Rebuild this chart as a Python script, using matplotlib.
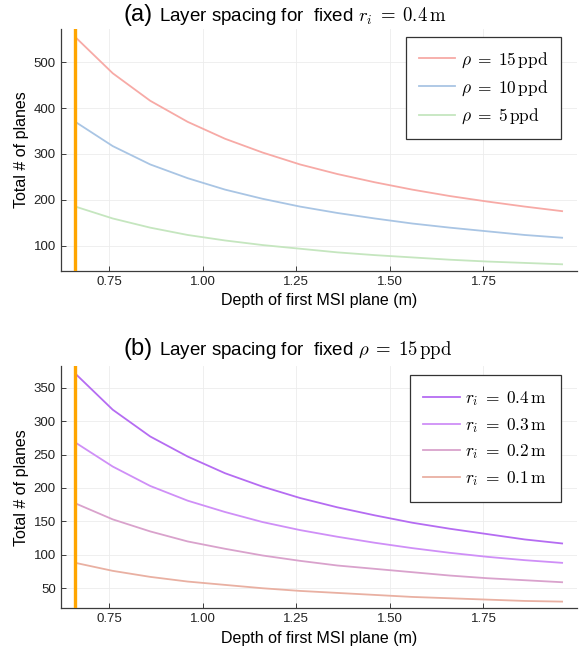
#!/usr/bin/env python3
"""
Number of MSI planes vs depth of first plane, two panels
"""

import matplotlib
matplotlib.use('Agg')
import matplotlib.pyplot as plt

# depth of first MSI plane (m)
depth = [0.66, 0.76, 0.86, 0.96, 1.06, 1.16, 1.26, 1.36, 1.46, 1.56, 1.66, 1.76, 1.86, 1.96]
cutoff = 0.66

# panel (a): fixed r_i = 0.4 m
rho15 = [555, 476, 416, 370, 333, 303, 277, 256, 238, 222, 208, 196, 185, 175]
rho10 = [370, 317, 277, 247, 222, 202, 185, 171, 159, 148, 139, 131, 123, 117]
rho5 = [185, 159, 139, 123, 111, 101, 93, 85, 79, 74, 69, 65, 62, 59]
labels_a = [r'$\rho \;=\; 15\,\mathrm{ppd}$', r'$\rho \;=\; 10\,\mathrm{ppd}$',
            r'$\rho \;=\; 5\,\mathrm{ppd}$']
colors_a = ['#f7aaa6', '#a9c5e4', '#c5e6bf']

# panel (b): fixed rho = 15 ppd
r04 = [371, 317, 277, 247, 222, 202, 185, 171, 159, 148, 139, 131, 123, 117]
r03 = [268, 232, 203, 181, 164, 149, 137, 127, 118, 110, 103, 97, 92, 88]
r02 = [177, 153, 135, 120, 109, 99, 91, 84, 79, 74, 69, 65, 62, 59]
r01 = [88, 76, 67, 60, 55, 50, 46, 43, 40, 37, 35, 33, 31, 30]
labels_b = [r'$r_i \;=\; 0.4\,\mathrm{m}$', r'$r_i \;=\; 0.3\,\mathrm{m}$',
            r'$r_i \;=\; 0.2\,\mathrm{m}$', r'$r_i \;=\; 0.1\,\mathrm{m}$']
colors_b = ['#b56cf2', '#cf8ff7', '#d9a2cc', '#e9b0a2']

plt.rcParams['font.family'] = ['Liberation Sans', 'DejaVu Sans']
plt.rcParams['mathtext.fontset'] = 'cm'

W, H = 582, 651
fig = plt.figure(figsize=(W / 100, H / 100), dpi=100)


def px_axes(left, top, right, bottom):
    return fig.add_axes([left / W, 1 - bottom / H, (right - left) / W, (bottom - top) / H])


def style(ax, xticks, yticks):
    for s in ['top', 'right']:
        ax.spines[s].set_visible(False)
    for s in ['left', 'bottom']:
        ax.spines[s].set_color('#3c3c3c')
        ax.spines[s].set_linewidth(0.9)
    ax.set_xticks(xticks)
    ax.set_xticklabels([f'{t:.2f}' for t in xticks])
    ax.set_yticks(yticks)
    ax.tick_params(direction='in', length=3.5, width=0.7, color='#3c3c3c',
                   labelsize=9.5, labelcolor='#222222')
    ax.grid(True, color='#ececec', linewidth=0.6)
    ax.set_axisbelow(True)
    ax.set_xlim(0.621, 1.999)
    ax.set_xlabel('Depth of first MSI plane (m)', fontsize=11.5, labelpad=4)
    ax.set_ylabel('Total # of planes', fontsize=11.5, labelpad=3)


def frame(leg):
    leg.get_frame().set_edgecolor('#333333')
    leg.get_frame().set_linewidth(0.9)
    leg.get_frame().set_alpha(1)


xt = [0.75, 1.00, 1.25, 1.50, 1.75]

# --- panel (a)
ax1 = px_axes(60.7, 29.3, 576.7, 270.7)
for ys, c, lab in zip([rho15, rho10, rho5], colors_a, labels_a):
    ax1.plot(depth, ys, color=c, lw=1.3, label=lab)
ax1.axvline(cutoff, color='#ffa500', lw=2.4, zorder=5)
ax1.set_ylim(45, 572)
style(ax1, xt, [100, 200, 300, 400, 500])
leg1 = ax1.legend(loc='upper right', bbox_to_anchor=(0.9696, 0.968), fontsize=12.5,
                  handlelength=2.1, handletextpad=0.3, labelspacing=0.5,
                  borderpad=0.75, borderaxespad=0, fancybox=False)
frame(leg1)

# --- panel (b)
ax2 = px_axes(60.7, 366, 576.7, 608.3)
for ys, c, lab in zip([r04, r03, r02, r01], colors_b, labels_b):
    ax2.plot(depth, ys, color=c, lw=1.3, label=lab)
ax2.axvline(cutoff, color='#ffa500', lw=2.4, zorder=5)
ax2.set_ylim(20, 382.4)
style(ax2, xt, [50, 100, 150, 200, 250, 300, 350])
leg2 = ax2.legend(loc='upper right', bbox_to_anchor=(0.9696, 0.963), fontsize=12.5,
                  handlelength=2.1, handletextpad=0.3, labelspacing=0.45,
                  borderpad=0.8, borderaxespad=0, fancybox=False)
frame(leg2)

# titles
fig.text(153 / W, 1 - 21 / H, '(a)', fontsize=17, ha='right', va='baseline')
fig.text(159 / W, 1 - 21 / H, r'Layer spacing for  fixed $r_i \;=\; 0.4\,\mathrm{m}$',
         fontsize=13.5, ha='left', va='baseline')
fig.text(153 / W, 1 - 355 / H, '(b)', fontsize=17, ha='right', va='baseline')
fig.text(159 / W, 1 - 355 / H, r'Layer spacing for  fixed $\rho \;=\; 15\,\mathrm{ppd}$',
         fontsize=13.5, ha='left', va='baseline')

fig.savefig('out.png', dpi=100)
